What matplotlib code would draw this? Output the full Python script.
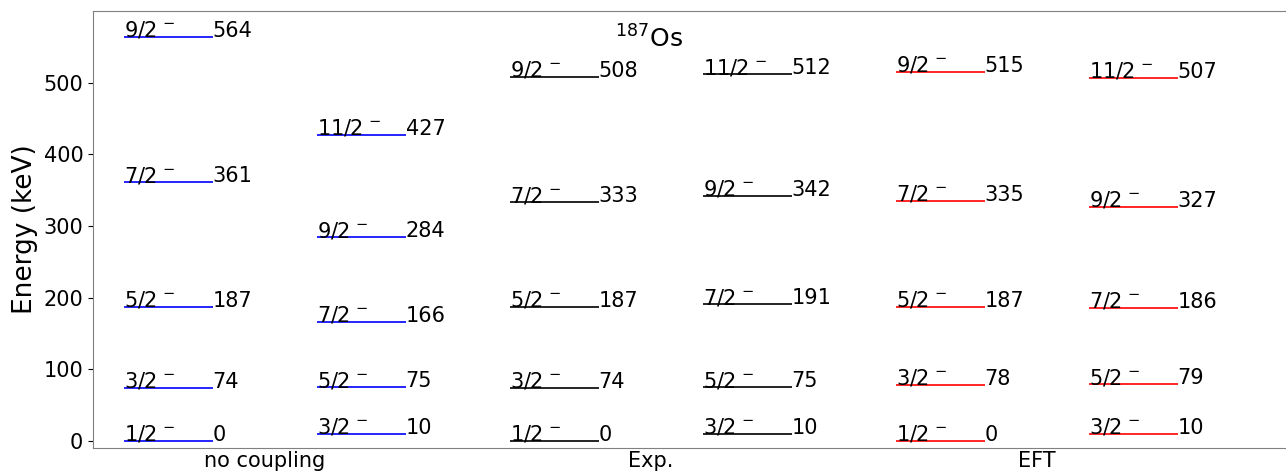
import matplotlib
matplotlib.use("Agg")
import matplotlib.pyplot as plt

# ---- data ----
group_names = ["no coupling", "Exp.", "EFT"]
column_colors = ["blue", "blue", "black", "black", "red", "red"]

spins_a = ["1/2", "3/2", "5/2", "7/2", "9/2"]
spins_b = ["3/2", "5/2", "7/2", "9/2", "11/2"]

nocoup_a = [0, 74, 187, 361, 564]
nocoup_b = [10, 75, 166, 284, 427]
exp_a = [0, 74, 187, 333, 508]
exp_b = [10, 75, 191, 342, 512]
eft_a = [0, 78, 187, 335, 515]
eft_b = [10, 79, 186, 327, 507]

columns = [
    (spins_a, nocoup_a),
    (spins_b, nocoup_b),
    (spins_a, exp_a),
    (spins_b, exp_b),
    (spins_a, eft_a),
    (spins_b, eft_b),
]

title = r"$^{187}$Os"
ylabel = "Energy (keV)"

# ---- figure ----
W, H = 1286, 472
fig = plt.figure(figsize=(W / 100, H / 100), dpi=100)
ax = fig.add_axes([93 / W, 24 / H, (W - 93) / W, 437 / H])

width = 0.46
fs = 15
for i, ((spins, energies), col) in enumerate(zip(columns, column_colors)):
    x0 = i
    x1 = i + width
    ax.hlines(energies, x0, x1, colors=col, linewidth=1.2)
    for s, e in zip(spins, energies):
        ax.text(x0, e, s + r"$^{\,-}$", fontsize=fs, ha="left", va="baseline")
        ax.text(x1, e, str(e), fontsize=fs, ha="left", va="baseline")

ax.text(2.72, 549, title, fontsize=18, ha="center", va="baseline")

ax.set_xlim(-0.16, -0.16 + (W - 93) / 193)
ax.set_ylim(-10, 600)
ax.set_yticks([0, 100, 200, 300, 400, 500])
ax.tick_params(axis="y", labelsize=fs)
ax.set_xticks([(2 * g + 2 * g + 1 + width) / 2 for g in range(3)])
ax.set_xticklabels(group_names, fontsize=fs)
ax.tick_params(axis="x", length=0, pad=2)
ax.set_ylabel(ylabel, fontsize=19)

for side in ["left", "top", "bottom"]:
    ax.spines[side].set_color("gray")
ax.spines["right"].set_visible(False)

fig.savefig("out.png", dpi=100)
